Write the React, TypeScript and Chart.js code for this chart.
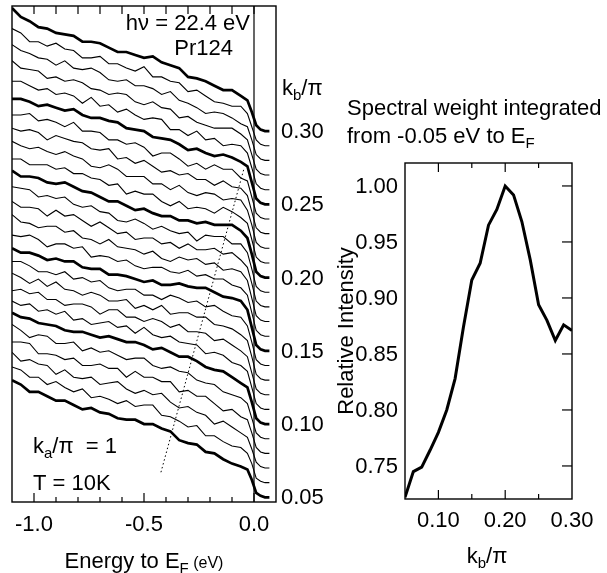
import { useEffect, useRef } from "react";
import { Chart, registerables } from "chart.js";

Chart.register(...registerables);

// ---------- Left panel: EDC stack ----------
const energies = [
  -1.1, -1.06, -1.02, -0.98, -0.94, -0.9, -0.86, -0.82, -0.78, -0.74, -0.7, -0.66, -0.62, -0.58, -0.54,
  -0.5, -0.46, -0.42, -0.38, -0.34, -0.3, -0.26, -0.22, -0.18, -0.14, -0.1, -0.06, -0.03, -0.01, 0.01,
  0.03, 0.05, 0.07,
];

// k_b/pi of each spectrum (the offset level of each curve)
const kbCurves = [
  0.05, 0.06, 0.07, 0.08, 0.09, 0.1, 0.11, 0.12, 0.13, 0.14, 0.15, 0.16, 0.17, 0.18, 0.19, 0.2, 0.21,
  0.22, 0.23, 0.24, 0.25, 0.26, 0.27, 0.28, 0.29, 0.3,
];

// intensities (arb. units, 10 units = one curve spacing)
const edc005 = [80,77,72,72,69,66,66,63,60,61,58,57,54,53,53,50,50,47,45,39,37,36,31,30,26,23,21,19,12,3,1,0,0];
const edc006 = [79,77,72,72,67,69,65,62,64,58,59,57,54,56,52,53,53,46,45,42,38,39,32,32,28,25,24,20,13,3,1,0,0];
const edc007 = [79,73,74,71,70,64,67,62,61,62,57,58,59,54,51,53,50,51,45,41,42,38,36,30,32,28,24,21,13,4,1,0,0];
const edc008 = [76,76,75,68,68,67,64,65,60,60,61,58,58,52,56,52,52,49,49,42,43,39,39,34,29,30,25,23,14,4,1,0,0];
const edc009 = [78,74,69,71,70,65,65,66,60,62,59,60,57,54,55,55,50,48,49,46,45,40,38,37,32,30,28,24,14,4,1,0,0];
const edc010 = [76,73,72,69,68,67,64,63,63,61,59,60,58,56,56,54,51,52,49,46,46,43,39,37,36,32,28,25,15,4,1,0,0];
const edc011 = [74,71,72,67,68,65,67,61,62,58,59,60,56,57,52,56,51,49,50,46,45,44,38,39,37,32,30,26,15,4,1,0,0];
const edc012 = [71,72,69,70,65,65,61,62,62,60,55,58,58,53,53,50,52,50,46,48,43,43,42,37,38,34,30,26,15,4,1,0,0];
const edc013 = [73,70,66,69,64,67,62,61,58,60,58,54,54,55,49,51,48,51,45,46,46,43,43,38,37,35,31,27,16,4,1,0,0];
const edc014 = [71,71,68,64,64,62,64,59,60,57,58,53,51,52,52,48,48,45,48,46,43,44,40,41,37,34,33,27,16,4,1,0,0];
const edc015 = [70,67,67,65,62,63,61,61,57,56,56,52,52,51,49,47,48,45,45,46,44,43,43,40,37,36,34,28,16,4,1,0,0];
const edc016 = [69,68,69,66,61,63,63,60,61,54,55,54,51,52,48,46,47,47,44,43,45,41,42,39,39,35,33,28,16,4,1,0,0];
const edc017 = [73,68,67,64,65,65,61,62,57,56,53,56,51,50,49,46,48,43,41,44,42,43,39,40,35,36,34,28,16,4,1,0,0];
const edc018 = [72,68,68,67,62,66,62,63,59,55,58,54,50,51,46,47,47,43,44,40,43,39,39,40,36,37,32,27,16,4,1,0,0];
const edc019 = [72,71,70,65,66,64,65,60,58,59,55,54,49,48,50,47,43,45,42,40,41,35,39,38,38,33,33,27,16,4,1,0,0];
const edc020 = [73,69,69,68,65,64,65,62,59,58,55,52,52,49,46,47,44,42,42,39,39,37,38,36,36,36,32,27,16,4,1,0,0];
const edc021 = [71,71,67,67,67,64,65,61,61,58,57,53,54,47,49,47,47,42,39,42,37,38,37,34,38,35,31,27,16,4,1,0,0];
const edc022 = [73,70,68,69,66,64,66,63,61,56,55,57,54,49,49,49,44,44,40,43,38,36,38,37,33,34,33,26,16,4,1,0,0];
const edc023 = [72,70,71,69,64,67,65,63,62,58,57,58,51,52,48,50,46,42,43,40,41,37,37,33,36,32,31,26,15,4,1,0,0];
const edc024 = [71,71,72,67,68,66,63,66,60,60,59,54,54,51,52,49,43,45,45,41,36,38,34,37,34,34,28,26,15,4,1,0,0];
const edc025 = [72,72,70,67,68,66,64,65,61,59,59,57,56,52,51,50,46,45,44,41,37,38,35,33,34,32,29,26,15,4,1,0,0];
const edc026 = [74,74,71,68,69,65,66,64,59,63,57,58,53,55,51,48,49,48,41,41,37,40,34,35,30,31,30,25,15,4,1,0,0];
const edc027 = [78,73,72,71,66,67,64,65,63,59,58,55,56,55,50,48,50,46,45,39,40,36,34,32,32,32,28,24,14,4,1,0,0];
const edc028 = [79,75,73,70,69,65,68,63,62,63,60,55,54,55,51,51,49,45,47,41,39,36,32,33,32,29,25,23,14,4,1,0,0];
const edc029 = [80,77,71,71,68,70,66,65,60,60,61,56,56,53,51,54,47,47,44,43,37,38,34,30,29,27,27,22,13,4,1,0,0];
const edc030 = [84,78,75,71,70,67,66,65,61,61,60,57,54,54,52,50,51,47,45,43,37,36,34,31,28,28,24,21,13,4,1,0,0];

const edcs = [
  edc005, edc006, edc007, edc008, edc009, edc010, edc011, edc012, edc013, edc014, edc015, edc016, edc017,
  edc018, edc019, edc020, edc021, edc022, edc023, edc024, edc025, edc026, edc027, edc028, edc029, edc030,
];

// dotted guide (dispersion)
const guideE = [-0.423, -0.045];
const guideY = [0.0671, 0.2747];

const energyMinorTicks = [-1.0, -0.9, -0.8, -0.7, -0.6, -0.5, -0.4, -0.3, -0.2, -0.1, 0.0];
const energyMajorTicks = [-1.0, -0.5, 0.0];
const energyTickLabels = ["-1.0", "-0.5", "0.0"];
const kbTickValues = [0.05, 0.1, 0.15, 0.2, 0.25, 0.3];
const kbTickLabels = ["0.05", "0.10", "0.15", "0.20", "0.25", "0.30"];

// ---------- Right panel ----------
const kbPoints = [
  0.05, 0.0625, 0.075, 0.0875, 0.1, 0.1125, 0.125, 0.1375, 0.15, 0.1625, 0.175, 0.1875, 0.2, 0.2125, 0.225,
  0.2375, 0.25, 0.2625, 0.275, 0.2875, 0.3,
];
const relIntensity = [
  0.722, 0.745, 0.749, 0.764, 0.78, 0.8, 0.828, 0.874, 0.916, 0.931, 0.965, 0.979, 1.0, 0.992, 0.968, 0.934,
  0.894, 0.88, 0.862, 0.876, 0.871,
];
const relYTicks = [0.75, 0.8, 0.85, 0.9, 0.95, 1.0];
const relYTickLabels = ["0.75", "0.80", "0.85", "0.90", "0.95", "1.00"];
const relXMinor = [0.1, 0.15, 0.2, 0.25];
const relXMajor = [0.1, 0.2, 0.3];
const relXTickLabels = ["0.10", "0.20", "0.30"];

const FONT = '"Liberation Sans", Arial, Helvetica, sans-serif';
const f = (s: number) => `${s}px ${FONT}`;

type Part = { t: string; s: number; dy?: number };
function drawRich(ctx: CanvasRenderingContext2D, parts: Part[], x: number, y: number, align: string) {
  let w = 0;
  for (const p of parts) {
    ctx.font = f(p.s);
    w += ctx.measureText(p.t).width;
  }
  let cx = align === "left" ? x : align === "center" ? x - w / 2 : x - w;
  ctx.textAlign = "left";
  ctx.textBaseline = "alphabetic";
  for (const p of parts) {
    ctx.font = f(p.s);
    ctx.fillText(p.t, cx, y + (p.dy || 0));
    cx += ctx.measureText(p.t).width;
  }
}

function seg(ctx: CanvasRenderingContext2D, x1: number, y1: number, x2: number, y2: number) {
  ctx.beginPath();
  ctx.moveTo(x1, y1);
  ctx.lineTo(x2, y2);
  ctx.stroke();
}

const leftDecor = {
  id: "leftDecor",
  afterDraw(chart: any) {
    const { ctx, chartArea: a } = chart;
    const xs = chart.scales.x;
    const ys = chart.scales.y;
    ctx.save();
    ctx.strokeStyle = "#000";
    ctx.fillStyle = "#000";
    ctx.lineWidth = 1.4;
    ctx.strokeRect(a.left, a.top, a.right - a.left, a.bottom - a.top);
    const x0 = xs.getPixelForValue(0);
    ctx.lineWidth = 1.2;
    seg(ctx, x0, a.top, x0, a.bottom);
    for (const v of energyMinorTicks) {
      const px = xs.getPixelForValue(v);
      const major = energyMajorTicks.includes(v);
      seg(ctx, px, a.bottom, px, a.bottom - (major ? 9 : 5));
      seg(ctx, px, a.top, px, a.top + 8);
    }
    ctx.font = f(22);
    ctx.textAlign = "center";
    ctx.textBaseline = "alphabetic";
    energyMajorTicks.forEach((v, i) => {
      ctx.fillText(energyTickLabels[i], xs.getPixelForValue(v), a.bottom + 29);
    });
    ctx.textAlign = "left";
    ctx.textBaseline = "middle";
    kbTickValues.forEach((v, i) => {
      ctx.fillText(kbTickLabels[i], a.right + 5, ys.getPixelForValue(v) + 1);
    });
    drawRich(ctx, [{ t: "k", s: 22 }, { t: "b", s: 15, dy: 5 }, { t: "/π", s: 22 }], a.right + 6, 95, "left");
    drawRich(ctx, [{ t: "hν = 22.4 eV", s: 22 }], 250, 30, "right");
    drawRich(ctx, [{ t: "Pr124", s: 22 }], 233, 55, "right");
    drawRich(ctx, [{ t: "k", s: 22 }, { t: "a", s: 15, dy: 5 }, { t: "/π  = 1", s: 22 }], 33, 453, "left");
    drawRich(ctx, [{ t: "T = 10K", s: 22 }], 33, 490, "left");
    drawRich(
      ctx,
      [{ t: "Energy to E", s: 22 }, { t: "F", s: 15, dy: 5 }, { t: " (eV)", s: 16 }],
      144,
      568,
      "center"
    );
    ctx.restore();
  },
};

const OX = 320;
const rightDecor = {
  id: "rightDecor",
  afterDraw(chart: any) {
    const { ctx, chartArea: a } = chart;
    const xs = chart.scales.x;
    const ys = chart.scales.y;
    ctx.save();
    ctx.strokeStyle = "#000";
    ctx.fillStyle = "#000";
    ctx.lineWidth = 1.4;
    ctx.strokeRect(a.left, a.top, a.right - a.left, a.bottom - a.top);
    ctx.lineWidth = 1.2;
    for (const v of relXMinor) {
      const px = xs.getPixelForValue(v);
      const major = relXMajor.includes(v);
      seg(ctx, px, a.bottom, px, a.bottom - (major ? 9 : 5));
      seg(ctx, px, a.top, px, a.top + (major ? 9 : 5));
    }
    for (const v of relYTicks) {
      const py = ys.getPixelForValue(v);
      seg(ctx, a.right, py, a.right - 10, py);
    }
    ctx.font = f(22);
    ctx.textAlign = "right";
    ctx.textBaseline = "middle";
    relYTicks.forEach((v, i) => ctx.fillText(relYTickLabels[i], a.left - 7, ys.getPixelForValue(v) + 1));
    ctx.textAlign = "center";
    ctx.textBaseline = "alphabetic";
    relXMajor.forEach((v, i) => ctx.fillText(relXTickLabels[i], xs.getPixelForValue(v), a.bottom + 28));
    drawRich(ctx, [{ t: "Spectral weight integrated", s: 22 }], 347 - OX, 115, "left");
    drawRich(
      ctx,
      [{ t: "from -0.05 eV to E", s: 22 }, { t: "F", s: 15, dy: 5 }],
      347 - OX,
      143,
      "left"
    );
    drawRich(ctx, [{ t: "k", s: 22 }, { t: "b", s: 15, dy: 5 }, { t: "/π", s: 22 }], 487 - OX, 563, "center");
    ctx.save();
    ctx.translate(353 - OX, 331);
    ctx.rotate(-Math.PI / 2);
    drawRich(ctx, [{ t: "Relative Intensity", s: 22 }], 0, 0, "center");
    ctx.restore();
    ctx.restore();
  },
};

export default function App() {
  const leftRef = useRef<HTMLCanvasElement>(null);
  const rightRef = useRef<HTMLCanvasElement>(null);

  useEffect(() => {
    const leftSets: any[] = edcs.map((arr, ci) => ({
      data: arr.map((v, i) => ({ x: energies[i], y: kbCurves[ci] + v / 1000 })),
      borderColor: "#000",
      borderWidth: ci % 5 === 0 ? 2.7 : 1.1,
      pointRadius: 0,
      tension: 0,
      fill: false,
    }));
    leftSets.push({
      data: guideE.map((e, i) => ({ x: e, y: guideY[i] })),
      borderColor: "#000",
      borderWidth: 1,
      borderDash: [1.5, 2.5],
      pointRadius: 0,
      fill: false,
    });

    const lc = new Chart(leftRef.current as HTMLCanvasElement, {
      type: "line",
      data: { datasets: leftSets },
      options: {
        responsive: false,
        animation: false,
        events: [],
        layout: { padding: { left: 12, top: 6, right: 54, bottom: 71 } },
        plugins: { legend: { display: false }, tooltip: { enabled: false } },
        scales: {
          x: { type: "linear", min: -1.1, max: 0.1, display: false },
          y: { type: "linear", min: 0.0468, max: 0.3854, display: false },
        },
      },
      plugins: [leftDecor],
    });

    const rc = new Chart(rightRef.current as HTMLCanvasElement, {
      type: "line",
      data: {
        datasets: [
          {
            data: kbPoints.map((k, i) => ({ x: k, y: relIntensity[i] })),
            borderColor: "#000",
            borderWidth: 3,
            pointRadius: 0,
            tension: 0,
            fill: false,
          },
        ],
      },
      options: {
        responsive: false,
        animation: false,
        events: [],
        layout: { padding: { left: 405 - OX, top: 163, right: 35, bottom: 74 } },
        plugins: { legend: { display: false }, tooltip: { enabled: false } },
        scales: {
          x: { type: "linear", min: 0.05, max: 0.3, display: false },
          y: { type: "linear", min: 0.7205, max: 1.0205, display: false },
        },
      },
      plugins: [rightDecor],
    });

    return () => {
      lc.destroy();
      rc.destroy();
    };
  }, []);

  return (
    <div style={{ position: "absolute", left: 0, top: 0, width: 607, height: 573, background: "#fff" }}>
      <canvas ref={leftRef} width={330} height={573} style={{ position: "absolute", left: 0, top: 0 }} />
      <canvas ref={rightRef} width={287} height={573} style={{ position: "absolute", left: OX, top: 0 }} />
    </div>
  );
}
